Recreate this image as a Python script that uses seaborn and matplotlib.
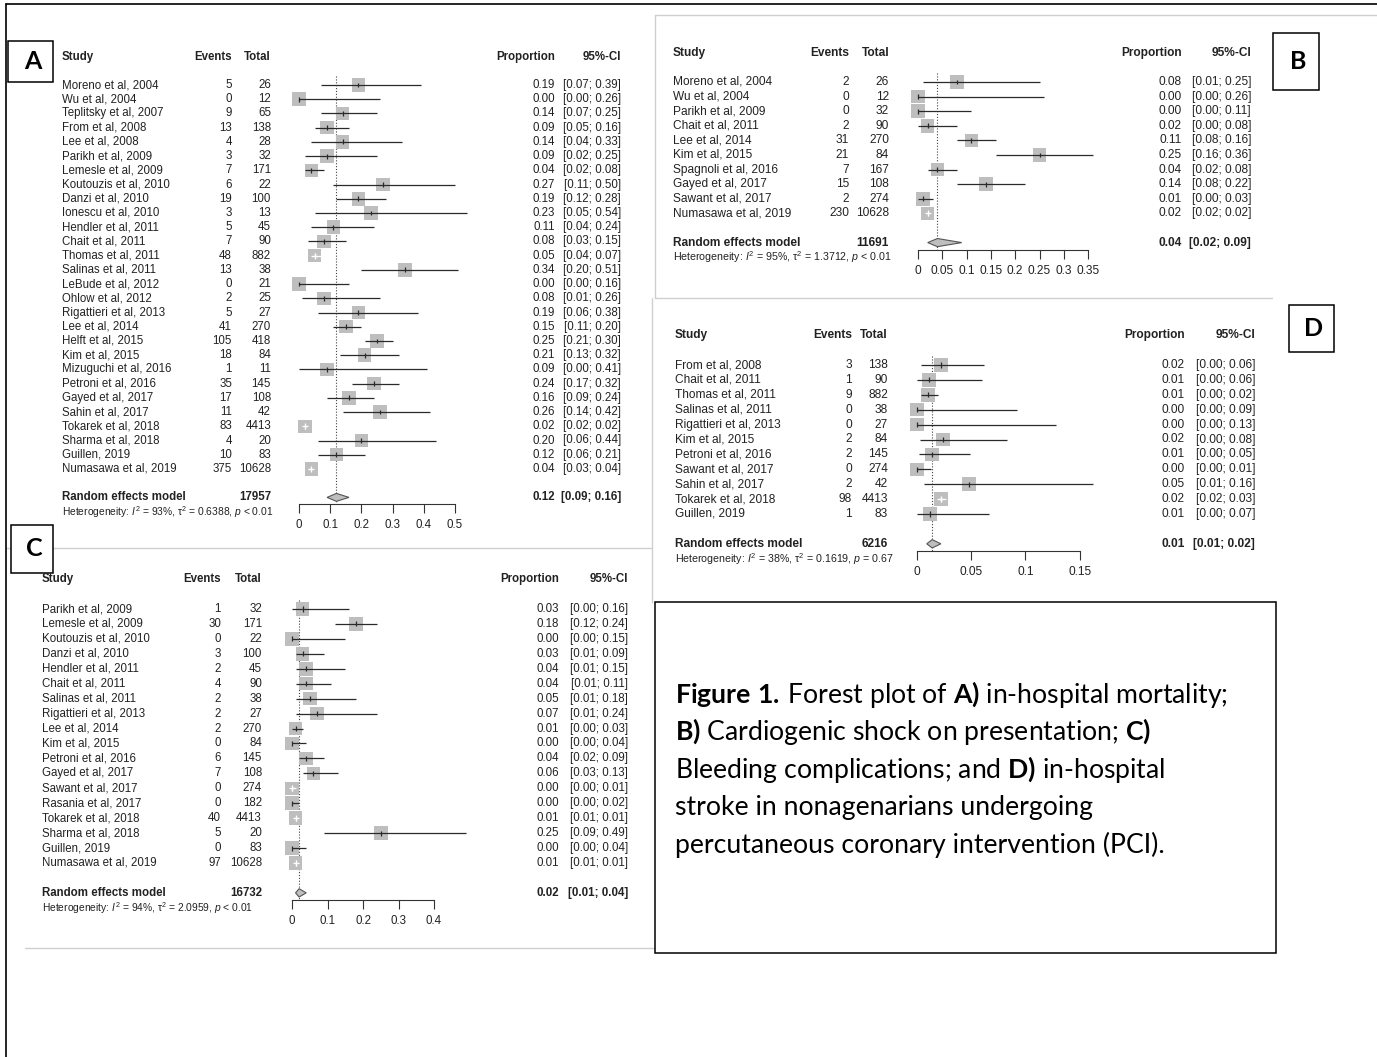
import numpy as np
import pandas as pd
import matplotlib
matplotlib.use("Agg")
import matplotlib.pyplot as plt
import matplotlib.transforms as mtransforms
from matplotlib.patches import Rectangle
import seaborn as sns

# ---------------- data ----------------
# A) in-hospital mortality
a_study = ["Moreno et al, 2004", "Wu et al, 2004", "Teplitsky et al, 2007", "From et al, 2008",
           "Lee et al, 2008", "Parikh et al, 2009", "Lemesle et al, 2009", "Koutouzis et al, 2010",
           "Danzi et al, 2010", "Ionescu et al, 2010", "Hendler et al, 2011", "Chait et al, 2011",
           "Thomas et al, 2011", "Salinas et al, 2011", "LeBude et al, 2012", "Ohlow et al, 2012",
           "Rigattieri et al, 2013", "Lee et al, 2014", "Helft et al, 2015", "Kim et al, 2015",
           "Mizuguchi et al, 2016", "Petroni et al, 2016", "Gayed et al, 2017", "Sahin et al, 2017",
           "Tokarek et al, 2018", "Sharma et al, 2018", "Guillen, 2019", "Numasawa et al, 2019"]
a_events = [5, 0, 9, 13, 4, 3, 7, 6, 19, 3, 5, 7, 48, 13, 0, 2, 5, 41, 105, 18, 1, 35, 17, 11, 83, 4, 10, 375]
a_total = [26, 12, 65, 138, 28, 32, 171, 22, 100, 13, 45, 90, 882, 38, 21, 25, 27, 270, 418, 84, 11, 145,
           108, 42, 4413, 20, 83, 10628]
a_prop = [0.19, 0.00, 0.14, 0.09, 0.14, 0.09, 0.04, 0.27, 0.19, 0.23, 0.11, 0.08, 0.05, 0.34, 0.00, 0.08,
          0.19, 0.15, 0.25, 0.21, 0.09, 0.24, 0.16, 0.26, 0.02, 0.20, 0.12, 0.04]
a_lo = [0.07, 0.00, 0.07, 0.05, 0.04, 0.02, 0.02, 0.11, 0.12, 0.05, 0.04, 0.03, 0.04, 0.20, 0.00, 0.01,
        0.06, 0.11, 0.21, 0.13, 0.00, 0.17, 0.09, 0.14, 0.02, 0.06, 0.06, 0.03]
a_hi = [0.39, 0.26, 0.25, 0.16, 0.33, 0.25, 0.08, 0.50, 0.28, 0.54, 0.24, 0.15, 0.07, 0.51, 0.16, 0.26,
        0.38, 0.20, 0.30, 0.32, 0.41, 0.32, 0.24, 0.42, 0.02, 0.44, 0.21, 0.04]
a_pooled = [0.12, 0.09, 0.16]
a_n = 17957
a_het = r"Heterogeneity: $I^2$ = 93%, $\mathrm{τ}^2$ = 0.6388, $p$ < 0.01"
a_ticks = [0, 0.1, 0.2, 0.3, 0.4, 0.5]
a_ticklabels = ["0", "0.1", "0.2", "0.3", "0.4", "0.5"]

# B) cardiogenic shock on presentation
b_study = ["Moreno et al, 2004", "Wu et al, 2004", "Parikh et al, 2009", "Chait et al, 2011",
           "Lee et al, 2014", "Kim et al, 2015", "Spagnoli et al, 2016", "Gayed et al, 2017",
           "Sawant et al, 2017", "Numasawa et al, 2019"]
b_events = [2, 0, 0, 2, 31, 21, 7, 15, 2, 230]
b_total = [26, 12, 32, 90, 270, 84, 167, 108, 274, 10628]
b_prop = [0.08, 0.00, 0.00, 0.02, 0.11, 0.25, 0.04, 0.14, 0.01, 0.02]
b_lo = [0.01, 0.00, 0.00, 0.00, 0.08, 0.16, 0.02, 0.08, 0.00, 0.02]
b_hi = [0.25, 0.26, 0.11, 0.08, 0.16, 0.36, 0.08, 0.22, 0.03, 0.02]
b_pooled = [0.04, 0.02, 0.09]
b_n = 11691
b_het = r"Heterogeneity: $I^2$ = 95%, $\mathrm{τ}^2$ = 1.3712, $p$ < 0.01"
b_ticks = [0, 0.05, 0.1, 0.15, 0.2, 0.25, 0.3, 0.35]
b_ticklabels = ["0", "0.05", "0.1", "0.15", "0.2", "0.25", "0.3", "0.35"]

# C) bleeding complications
c_study = ["Parikh et al, 2009", "Lemesle et al, 2009", "Koutouzis et al, 2010", "Danzi et al, 2010",
           "Hendler et al, 2011", "Chait et al, 2011", "Salinas et al, 2011", "Rigattieri et al, 2013",
           "Lee et al, 2014", "Kim et al, 2015", "Petroni et al, 2016", "Gayed et al, 2017",
           "Sawant et al, 2017", "Rasania et al, 2017", "Tokarek et al, 2018", "Sharma et al, 2018",
           "Guillen, 2019", "Numasawa et al, 2019"]
c_events = [1, 30, 0, 3, 2, 4, 2, 2, 2, 0, 6, 7, 0, 0, 40, 5, 0, 97]
c_total = [32, 171, 22, 100, 45, 90, 38, 27, 270, 84, 145, 108, 274, 182, 4413, 20, 83, 10628]
c_prop = [0.03, 0.18, 0.00, 0.03, 0.04, 0.04, 0.05, 0.07, 0.01, 0.00, 0.04, 0.06, 0.00, 0.00, 0.01,
          0.25, 0.00, 0.01]
c_lo = [0.00, 0.12, 0.00, 0.01, 0.01, 0.01, 0.01, 0.01, 0.00, 0.00, 0.02, 0.03, 0.00, 0.00, 0.01,
        0.09, 0.00, 0.01]
c_hi = [0.16, 0.24, 0.15, 0.09, 0.15, 0.11, 0.18, 0.24, 0.03, 0.04, 0.09, 0.13, 0.01, 0.02, 0.01,
        0.49, 0.04, 0.01]
c_pooled = [0.02, 0.01, 0.04]
c_n = 16732
c_het = r"Heterogeneity: $I^2$ = 94%, $\mathrm{τ}^2$ = 2.0959, $p$ < 0.01"
c_ticks = [0, 0.1, 0.2, 0.3, 0.4]
c_ticklabels = ["0", "0.1", "0.2", "0.3", "0.4"]

# D) in-hospital stroke
d_study = ["From et al, 2008", "Chait et al, 2011", "Thomas et al, 2011", "Salinas et al, 2011",
           "Rigattieri et al, 2013", "Kim et al, 2015", "Petroni et al, 2016", "Sawant et al, 2017",
           "Sahin et al, 2017", "Tokarek et al, 2018", "Guillen, 2019"]
d_events = [3, 1, 9, 0, 0, 2, 2, 0, 2, 98, 1]
d_total = [138, 90, 882, 38, 27, 84, 145, 274, 42, 4413, 83]
d_prop = [0.022, 0.011, 0.010, 0.000, 0.000, 0.024, 0.014, 0.000, 0.048, 0.022, 0.012]
d_lo = [0.004, 0.000, 0.004, 0.000, 0.000, 0.003, 0.002, 0.000, 0.006, 0.018, 0.000]
d_hi = [0.062, 0.060, 0.019, 0.092, 0.128, 0.083, 0.049, 0.013, 0.162, 0.027, 0.066]
d_pooled = [0.014, 0.009, 0.022]
d_n = 6216
d_het = r"Heterogeneity: $I^2$ = 38%, $\mathrm{τ}^2$ = 0.1619, $p$ = 0.67"
d_ticks = [0, 0.05, 0.1, 0.15]
d_ticklabels = ["0", "0.05", "0.1", "0.15"]

caption_lines = [
    r"$\mathbf{Figure\ 1.}\,$Forest plot of $\mathbf{A)}$ in-hospital mortality;",
    r"$\mathbf{B)}$ Cardiogenic shock on presentation; $\mathbf{C)}$",
    r"Bleeding complications; and $\mathbf{D)}$ in-hospital",
    "stroke in nonagenarians undergoing",
    "percutaneous coronary intervention (PCI).",
]

# ---------------- style ----------------
sns.set_style("white")
plt.rcParams["font.family"] = ["Liberation Sans", "DejaVu Sans"]
plt.rcParams["mathtext.fontset"] = "custom"
plt.rcParams["mathtext.rm"] = "Liberation Sans"
plt.rcParams["mathtext.it"] = "Liberation Sans:italic"
plt.rcParams["mathtext.bf"] = "Lato:bold"

TEXT = "#222222"
SQ_COLOR = "#BEBEBE"
LINE_COLOR = "#2a2a2a"
FAINT = "#CFCFCF"
SQ_PX = 13.5

W, H = 1377, 1057
fig = plt.figure(figsize=(W / 100, H / 100), dpi=100)
bg = fig.add_axes([0, 0, 1, 1])
bg.set_xlim(0, W)
bg.set_ylim(H, 0)
bg.axis("off")


def draw_forest(geo, study, events, total, prop, lo, hi, pooled, n_total, het, ticks, ticklabels):
    x0, ppu, xmax = geo["x0"], geo["ppu"], geo["xmax"]
    y0, rh, axis_px, fs = geo["y0"], geo["rh"], geo["axis"], geo["fs"]
    n = len(study)
    top_row = -1.2
    axis_row = (axis_px - y0) / rh
    top_px = y0 + top_row * rh
    ax = fig.add_axes([x0 / W, 1 - axis_px / H, xmax * ppu / W, (axis_px - top_px) / H])
    ax.patch.set_visible(False)

    df = pd.DataFrame({"prop": prop, "lo": lo, "hi": hi, "row": np.arange(n)})
    half = SQ_PX / 2 / ppu
    inside = (df["lo"] >= df["prop"] - half) & (df["hi"] <= df["prop"] + half)
    col = np.where(inside, "white", LINE_COLOR)

    sns.scatterplot(data=df, x="prop", y="row", marker="s", s=(SQ_PX * 0.72) ** 2,
                    color=SQ_COLOR, edgecolor="none", linewidth=0, ax=ax, zorder=2, legend=False)
    ax.collections[-1].set_clip_on(False)
    ax.hlines(df["row"], df["lo"], df["hi"], colors=col, lw=0.9, zorder=3, clip_on=False)
    ax.vlines(df["prop"], df["row"] - 0.17, df["row"] + 0.17, colors=col, lw=0.9, zorder=3, clip_on=False)
    # narrow intervals hidden by the square: white cross as in R meta
    if inside.any():
        sub = df[inside]
        ax.scatter(sub["prop"], sub["row"], marker="+", s=16, color="white", linewidths=0.9,
                   zorder=4, clip_on=False)

    p, plo, phi = pooled
    re = n + 1
    ax.fill([plo, p, phi, p], [re, re - 0.28, re, re + 0.28], facecolor=SQ_COLOR,
            edgecolor="#555555", lw=0.8, zorder=3, clip_on=False)
    ax.vlines(p, -0.6, axis_row, colors="#444444", lw=0.8, linestyles=(0, (1, 1.6)), zorder=1)

    ax.set_xlim(0, xmax)
    ax.set_ylim(axis_row, top_row)
    for s in ["top", "left", "right"]:
        ax.spines[s].set_visible(False)
    ax.spines["bottom"].set_color("#333333")
    ax.spines["bottom"].set_linewidth(0.8)
    ax.set_xticks(ticks)
    ax.set_xticklabels(ticklabels, fontsize=fs)
    ax.tick_params(axis="x", direction="out", length=6.5, width=0.8, color="#333333", pad=4,
                   labelcolor=TEXT, bottom=True)
    ax.set_yticks([])
    ax.set_xlabel("")
    ax.set_ylabel("")

    tr = mtransforms.blended_transform_factory(bg.transData, ax.transData)

    def put(x, y, s, ha="left", bold=False, size=fs):
        ax.text(x, y, s, transform=tr, ha=ha, va="center", fontsize=size,
                fontweight="bold" if bold else "normal", color=TEXT, clip_on=False)

    sx, ex, tx, px_, cx = geo["cols"]
    put(sx, -2, "Study", bold=True)
    put(ex, -2, "Events", ha="right", bold=True)
    put(tx, -2, "Total", ha="right", bold=True)
    put(px_, -2, "Proportion", ha="right", bold=True)
    put(cx, -2, "95%-CI", ha="right", bold=True)
    for i in range(n):
        put(sx, i, study[i])
        put(ex, i, str(events[i]), ha="right")
        put(tx, i, str(total[i]), ha="right")
        put(px_, i, f"{prop[i]:.2f}", ha="right")
        put(cx, i, f"[{lo[i]:.2f}; {hi[i]:.2f}]", ha="right")
    put(sx, re, "Random effects model", bold=True)
    put(tx, re, str(n_total), ha="right", bold=True)
    put(px_, re, f"{p:.2f}", ha="right", bold=True)
    put(cx, re, f"[{plo:.2f}; {phi:.2f}]", ha="right", bold=True)
    put(sx, re + 1, het, size=fs - 0.9)
    return ax


geo_a = dict(x0=299, ppu=312, xmax=0.5, y0=85, rh=14.22, axis=504, fs=8.3, cols=(62, 232, 271, 555, 621))
geo_b = dict(x0=918, ppu=486, xmax=0.35, y0=82, rh=14.6, axis=250, fs=8.6, cols=(673, 849, 889, 1182, 1251))
geo_c = dict(x0=292, ppu=355, xmax=0.4, y0=609, rh=14.94, axis=900, fs=8.3, cols=(42, 221, 262, 559, 628))
geo_d = dict(x0=917, ppu=1085, xmax=0.15, y0=365, rh=14.9, axis=551, fs=8.6, cols=(675, 852, 888, 1185, 1255))

# faint edges of the pasted panels
bg.plot([655, 655], [15, 298], color=FAINT, lw=1)
bg.plot([655, 1377], [15, 15], color=FAINT, lw=1)
bg.plot([655, 1272], [298, 298], color=FAINT, lw=1)
bg.plot([652, 652], [298, 602], color=FAINT, lw=1)
bg.plot([6, 652], [548, 548], color=FAINT, lw=1)
bg.plot([25, 655], [948, 948], color=FAINT, lw=1)

draw_forest(geo_a, a_study, a_events, a_total, a_prop, a_lo, a_hi, a_pooled, a_n, a_het, a_ticks, a_ticklabels)
draw_forest(geo_b, b_study, b_events, b_total, b_prop, b_lo, b_hi, b_pooled, b_n, b_het, b_ticks, b_ticklabels)
draw_forest(geo_c, c_study, c_events, c_total, c_prop, c_lo, c_hi, c_pooled, c_n, c_het, c_ticks, c_ticklabels)
draw_forest(geo_d, d_study, d_events, d_total, d_prop, d_lo, d_hi, d_pooled, d_n, d_het, d_ticks, d_ticklabels)

# outer frame
bg.plot([6, W], [4, 4], color="black", lw=1.2)
bg.plot([6, 6], [4, H], color="black", lw=1.2)

# panel letter boxes
for (x, y, w, h), letter in [((8, 41, 45, 41), "A"), ((1273, 33, 46, 57), "B"),
                             ((11, 525, 42, 48), "C"), ((1289, 305, 45, 47), "D")]:
    bg.add_patch(Rectangle((x, y), w, h, fill=True, facecolor="white", edgecolor="black", lw=1.1, zorder=5))
    bg.text(x + w / 2 + 2, y + h / 2, letter, ha="center", va="center", fontsize=18,
            fontweight="bold", family="Lato", color="black", zorder=6)

# caption box
bg.add_patch(Rectangle((655, 602), 621, 351, fill=True, facecolor="white", edgecolor="black", lw=1.1, zorder=5))
for k, line in enumerate(caption_lines):
    bg.text(675, 694 + k * 37.7, line, ha="left", va="center", fontsize=19.2, family="Lato",
            color="black", zorder=6)

fig.savefig("out.png", dpi=100)
